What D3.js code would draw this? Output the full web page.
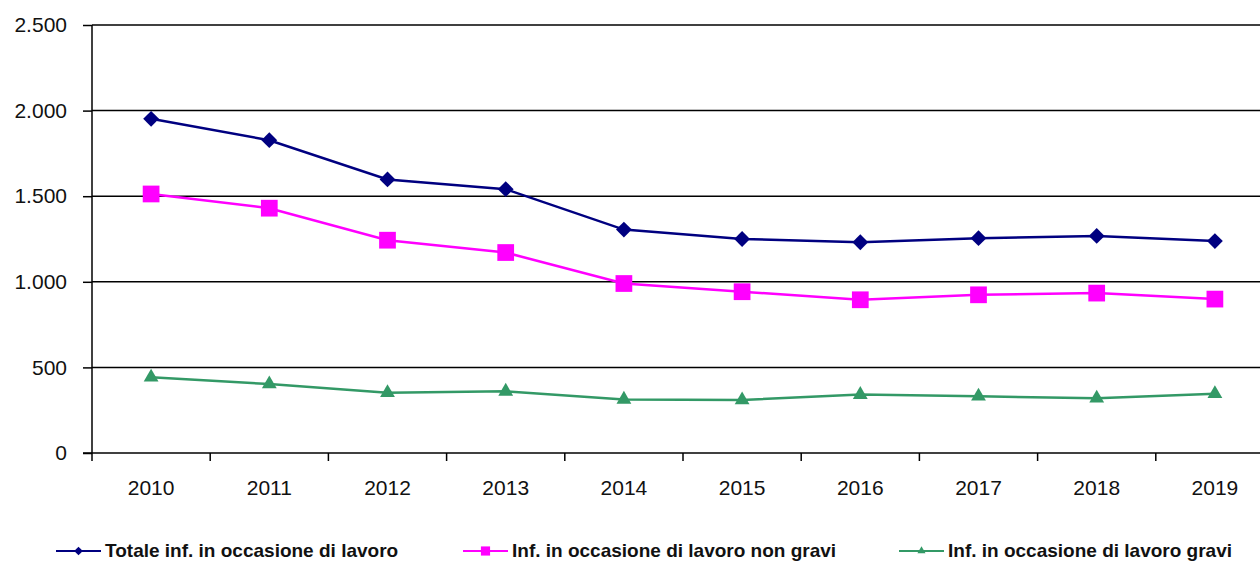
<!DOCTYPE html>
<html lang="it">
<head>
<meta charset="UTF-8">
<title>Infortuni in occasione di lavoro</title>
<style>
body { margin: 0; background: #fff; }
svg { display: block; font-family: "Liberation Sans", Arial, sans-serif; }
.grid line { stroke: #000; stroke-width: 1.5px; }
.axis path, .axis line { stroke: #000; stroke-width: 1.5px; }
.axis text { font-size: 21px; fill: #111; }
.legend text { font-size: 19px; font-weight: bold; fill: #111; }
</style>
</head>
<body>
<script src="https://cdn.jsdelivr.net/npm/d3@7/dist/d3.min.js"></script>
<script>
var years = ["2010", "2011", "2012", "2013", "2014", "2015", "2016", "2017", "2018", "2019"];
var totale = [1952, 1827, 1598, 1541, 1305, 1250, 1231, 1255, 1268, 1238];
var nonGravi = [1513, 1430, 1243, 1171, 990, 942, 895, 924, 934, 899];
var gravi = [442, 403, 352, 360, 313, 310, 341, 331, 320, 346];
var yTicks = [0, 500, 1000, 1500, 2000, 2500];

// diamond = square rotated 45deg
var series = [
    { name: "Totale inf. in occasione di lavoro", values: totale, color: "#000080", symbol: d3.symbolSquare, rot: 45, size: 125, lx: 56 },
    { name: "Inf. in occasione di lavoro non gravi", values: nonGravi, color: "#ff00ff", symbol: d3.symbolSquare, rot: 0, size: 280, lx: 463 },
    { name: "Inf. in occasione di lavoro gravi", values: gravi, color: "#339966", symbol: d3.symbolTriangle, rot: 0, size: 95, lx: 899 }
];

var margin = { top: 25, left: 92 },
    width = 1182,
    height = 428;

var svg = d3.select("body").append("svg")
    .attr("width", 1260)
    .attr("height", 563);

var g = svg.append("g")
    .attr("transform", "translate(" + margin.left + "," + margin.top + ")");

var x = d3.scaleBand().domain(years).range([0, width]);
var y = d3.scaleLinear().domain([0, 2500]).range([height, 0]);

// horizontal grid
g.append("g").attr("class", "grid")
    .selectAll("line").data(yTicks.slice(1)).enter().append("line")
    .attr("x1", 0).attr("x2", width)
    .attr("y1", function(d) { return y(d); })
    .attr("y2", function(d) { return y(d); });

// y axis
var yAxis = g.append("g").attr("class", "axis")
    .call(d3.axisLeft(y).tickValues(yTicks).tickSize(9).tickPadding(16)
        .tickFormat(function(d) { return d3.format(",")(d).replace(/,/g, "."); }));
yAxis.select(".domain").attr("d", "M0,0V" + height);

// x axis with ticks between categories
var xAxis = g.append("g").attr("class", "axis")
    .attr("transform", "translate(0," + height + ")")
    .call(d3.axisBottom(x).tickSize(0).tickPadding(27));
xAxis.select(".domain").attr("d", "M-9,0H" + width);
xAxis.selectAll(".sep").data(years).enter().append("line")
    .attr("class", "sep")
    .attr("x1", function(d) { return x(d); })
    .attr("x2", function(d) { return x(d); })
    .attr("y1", 0).attr("y2", 8);

var cx = function(i) { return x(years[i]) + x.bandwidth() / 2; };

var line = d3.line()
    .x(function(d, i) { return cx(i); })
    .y(function(d) { return y(d); });

series.forEach(function(s) {
    g.append("path")
        .datum(s.values)
        .attr("fill", "none")
        .attr("stroke", s.color)
        .attr("stroke-width", 2.5)
        .attr("d", line);

    g.selectAll(null).data(s.values).enter().append("path")
        .attr("d", d3.symbol().type(s.symbol).size(s.size))
        .attr("fill", s.color)
        .attr("transform", function(d, i) {
            return "translate(" + cx(i) + "," + y(d) + ") rotate(" + s.rot + ")";
        });
});

// legend
var legend = svg.append("g").attr("class", "legend");
series.forEach(function(s) {
    var ly = 551;
    legend.append("line")
        .attr("x1", s.lx).attr("x2", s.lx + 45)
        .attr("y1", ly).attr("y2", ly)
        .attr("stroke", s.color).attr("stroke-width", 2);
    legend.append("path")
        .attr("d", d3.symbol().type(s.symbol).size(s.size * 0.3))
        .attr("fill", s.color)
        .attr("transform", "translate(" + (s.lx + 22.5) + "," + ly + ") rotate(" + s.rot + ")");
    legend.append("text")
        .attr("x", s.lx + 49)
        .attr("y", ly + 6)
        .text(s.name);
});
</script>
</body>
</html>
